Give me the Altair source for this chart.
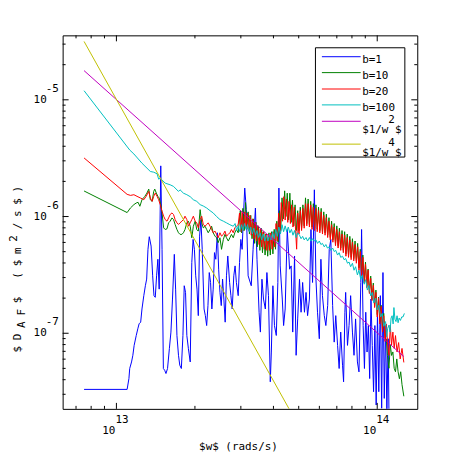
import altair as alt
import pandas as pd

# ---- data: log10(w [rad/s]) and log10(D_AF [m^2/s]) ----
b1_logw = [12.876, 13.041, 13.048, 13.051, 13.058, 13.063, 13.068, 13.076, 13.082, 13.087,
           13.093, 13.098, 13.105, 13.111, 13.116, 13.121, 13.126, 13.133, 13.139, 13.144,
           13.149, 13.154, 13.159, 13.164, 13.170, 13.175, 13.180, 13.185, 13.190, 13.196,
           13.203, 13.209, 13.215, 13.222, 13.227, 13.232, 13.238, 13.243, 13.249, 13.255,
           13.260, 13.265, 13.270, 13.276, 13.283, 13.289, 13.294, 13.299, 13.304, 13.309,
           13.314, 13.319, 13.324, 13.329, 13.336, 13.341, 13.346, 13.351, 13.356, 13.361,
           13.366, 13.371, 13.376, 13.381, 13.387, 13.392, 13.397, 13.402, 13.407, 13.412,
           13.417, 13.422, 13.427, 13.434, 13.439, 13.444, 13.450, 13.455, 13.460, 13.467,
           13.472, 13.477, 13.482, 13.487, 13.492, 13.498, 13.505, 13.517, 13.524, 13.533,
           13.539, 13.547, 13.552, 13.558, 13.564, 13.571, 13.577, 13.583, 13.590, 13.594,
           13.600, 13.606, 13.613, 13.619, 13.623, 13.628, 13.636, 13.641, 13.647, 13.655,
           13.664, 13.670, 13.676, 13.683, 13.689, 13.695, 13.702, 13.708, 13.714, 13.721,
           13.727, 13.733, 13.740, 13.746, 13.752, 13.759, 13.765, 13.771, 13.778, 13.784,
           13.790, 13.797, 13.803, 13.810, 13.816, 13.822, 13.829, 13.835, 13.841, 13.848,
           13.854, 13.860, 13.867, 13.871, 13.876, 13.879, 13.886, 13.892, 13.898, 13.905,
           13.911, 13.917, 13.924, 13.930, 13.937, 13.940, 13.946, 13.951, 13.956, 13.961,
           13.966, 13.971, 13.976, 13.981, 13.986, 13.991, 13.996, 14.001, 14.006, 14.012,
           14.017, 14.022, 14.027, 14.032, 14.037, 14.042, 14.046]
b1_logD = [-7.481, -7.481, -7.388, -7.302, -7.246, -7.189, -7.104, -7.019, -6.962, -6.919,
           -6.905, -6.792, -6.678, -6.593, -6.536, -6.281, -6.173, -6.253, -6.508, -6.678,
           -6.692, -6.508, -6.366, -6.622, -5.566, -6.281, -7.302, -7.317, -7.345, -7.302,
           -7.132, -6.990, -6.707, -6.324, -6.622, -7.019, -7.189, -7.274, -7.302, -7.019,
           -6.593, -6.650, -7.019, -7.132, -7.246, -6.395, -6.196, -6.281, -6.508, -6.622,
           -6.849, -6.168, -6.026, -6.281, -6.792, -6.849, -6.934, -6.763, -6.480, -6.565,
           -6.792, -6.622, -6.309, -6.366, -6.139, -6.451, -6.650, -6.763, -6.536, -6.707,
           -6.905, -6.508, -6.338, -6.565, -6.678, -6.792, -6.508, -6.423, -6.565, -6.678,
           -6.395, -6.196, -6.281, -5.997, -5.756, -5.941, -6.508, -6.593, -6.281, -5.927,
           -6.366, -6.820, -6.990, -6.537, -6.707, -6.792, -6.480, -6.678, -7.416, -7.161,
           -6.593, -6.934, -7.019, -6.565, -5.756, -6.423, -6.707, -6.934, -6.792, -6.111,
           -6.451, -6.423, -6.990, -6.338, -7.189, -6.877, -6.537, -6.820, -6.565, -6.820,
           -6.650, -6.849, -6.707, -6.111, -6.565, -5.771, -6.537, -6.820, -7.047, -6.366,
           -6.678, -6.849, -6.934, -6.763, -6.281, -6.196, -6.763, -7.076, -6.849, -7.104,
           -7.302, -6.990, -7.274, -7.416, -6.820, -6.650, -7.104, -6.934, -6.678, -6.990,
           -7.189, -6.877, -7.246, -7.331, -6.565, -6.111, -6.934, -7.302, -6.820, -7.161,
           -6.934, -7.388, -6.707, -7.104, -7.501, -6.934, -7.615, -6.820, -7.501, -6.678,
           -7.643, -6.480, -7.558, -6.934, -7.671, -7.047, -7.900]

b10_logw = [12.876, 13.041, 13.054, 13.067, 13.076, 13.083, 13.090, 13.098, 13.109, 13.117,
            13.124, 13.130, 13.137, 13.143, 13.147, 13.153, 13.159, 13.164, 13.170, 13.175,
            13.181, 13.187, 13.194, 13.200, 13.206, 13.213, 13.219, 13.225, 13.232, 13.238,
            13.244, 13.251, 13.257, 13.263, 13.270, 13.276, 13.283, 13.289, 13.295, 13.302,
            13.308, 13.314, 13.321, 13.327, 13.333, 13.340, 13.346, 13.352, 13.359, 13.365,
            13.371, 13.378, 13.384, 13.390, 13.397, 13.403, 13.410, 13.416, 13.422, 13.429,
            13.435, 13.441, 13.448, 13.454, 13.460, 13.467,
            13.475, 13.480, 13.485, 13.490, 13.495, 13.500, 13.505, 13.510, 13.515, 13.520,
            13.525, 13.530, 13.535, 13.540, 13.545, 13.550, 13.555, 13.560, 13.565, 13.570,
            13.575, 13.580, 13.585, 13.590, 13.595, 13.600, 13.605, 13.610, 13.615, 13.620,
            13.625, 13.630, 13.635, 13.640, 13.645, 13.650, 13.655, 13.660, 13.665, 13.670,
            13.675, 13.680, 13.685, 13.690, 13.695, 13.700, 13.705, 13.710, 13.715, 13.720,
            13.725, 13.730, 13.735, 13.740, 13.745, 13.750, 13.755, 13.760, 13.765, 13.770,
            13.775, 13.780, 13.785, 13.790, 13.795, 13.800, 13.805, 13.810, 13.815, 13.820,
            13.825, 13.830, 13.835, 13.840, 13.845, 13.850, 13.855, 13.860, 13.865, 13.870,
            13.875, 13.880, 13.885, 13.890, 13.895, 13.900, 13.905, 13.910, 13.915, 13.920,
            13.925, 13.930, 13.935, 13.940, 13.945, 13.950, 13.955, 13.960, 13.965, 13.970,
            13.975, 13.980, 13.985, 13.990, 13.995, 14.000, 14.005, 14.010, 14.015, 14.020,
            14.025, 14.030,
            14.035, 14.039, 14.045, 14.050, 14.055, 14.060, 14.065, 14.070, 14.075, 14.080,
            14.085, 14.090, 14.095, 14.102]
b10_logD = [-5.781, -5.966, -5.926, -5.898, -5.884, -5.878, -5.912, -5.856, -5.827, -5.799,
            -5.765, -5.856, -5.870, -5.785, -5.765, -5.799, -5.827, -5.841, -5.898, -5.969,
            -6.097, -6.111, -6.105, -6.054, -6.040, -6.012, -6.026, -6.068, -6.111, -6.139,
            -6.153, -6.153, -6.139, -6.111, -6.054, -6.040, -6.083, -6.182, -6.083, -6.040,
            -6.111, -6.125, -5.941, -6.054, -6.097, -6.083, -6.111, -6.139, -6.111, -6.083,
            -6.139, -6.168, -6.182, -6.224, -6.182, -6.281, -6.196, -6.153, -6.182, -6.210,
            -6.182, -6.153, -6.182, -6.139, -6.111, -6.139,
            -5.95, -6.14, -5.93, -6.12, -5.88, -6.11, -5.96, -6.15, -5.99, -6.19,
            -6.02, -6.23, -6.05, -6.26, -6.08, -6.29, -6.10, -6.31, -6.13, -6.33,
            -6.15, -6.34, -6.14, -6.33, -6.13, -6.32, -6.11, -6.28, -6.04, -6.22,
            -5.95, -6.12, -5.84, -6.02, -5.78, -6.00, -5.80, -6.03, -5.80, -6.05,
            -5.86, -6.08, -5.90, -6.12, -5.95, -6.12, -5.92, -6.10, -5.90, -6.08,
            -5.84, -6.06, -5.85, -6.07, -5.87, -6.09, -5.89, -6.10, -5.90, -6.11,
            -5.92, -6.12, -5.93, -6.13, -5.96, -6.14, -5.98, -6.16, -6.01, -6.18,
            -6.04, -6.20, -6.06, -6.23, -6.08, -6.25, -6.10, -6.27, -6.12, -6.29,
            -6.13, -6.32, -6.15, -6.33, -6.17, -6.35, -6.19, -6.36, -6.21, -6.38,
            -6.23, -6.44, -6.28, -6.49, -6.33, -6.55, -6.39, -6.60, -6.45, -6.65,
            -6.51, -6.71, -6.57, -6.77, -6.63, -6.84, -6.69, -6.90, -6.76, -6.97,
            -6.83, -7.04,
            -7.05, -7.19, -7.30, -7.10, -7.19, -7.16, -7.30, -7.33, -7.22, -7.33,
            -7.39, -7.33, -7.44, -7.54]

b20_logw = [12.876, 13.041, 13.054, 13.067, 13.079, 13.092, 13.105, 13.114, 13.124, 13.130,
            13.137, 13.143, 13.149, 13.156, 13.162, 13.168, 13.175, 13.181, 13.187, 13.194,
            13.200, 13.206, 13.213, 13.219, 13.225, 13.232, 13.238, 13.244, 13.251, 13.257,
            13.263, 13.270, 13.276, 13.283, 13.289, 13.295, 13.302, 13.308, 13.314, 13.321,
            13.327, 13.333, 13.340, 13.346, 13.352, 13.359, 13.365, 13.371, 13.378, 13.384,
            13.390, 13.397, 13.403, 13.410, 13.416, 13.422, 13.429, 13.435, 13.441, 13.448,
            13.454, 13.460, 13.467,
            13.472, 13.477, 13.482, 13.487, 13.492, 13.497, 13.502, 13.507, 13.512, 13.517,
            13.522, 13.527, 13.532, 13.537, 13.542, 13.547, 13.552, 13.557, 13.562, 13.567,
            13.572, 13.577, 13.582, 13.587, 13.592, 13.597, 13.602, 13.607, 13.612, 13.617,
            13.622, 13.627, 13.632, 13.637, 13.642, 13.647, 13.652, 13.657, 13.662, 13.667,
            13.672, 13.677, 13.682, 13.687, 13.691, 13.695, 13.700, 13.705, 13.710, 13.715,
            13.720, 13.725, 13.730, 13.735, 13.740, 13.745, 13.750, 13.755, 13.760, 13.765,
            13.770, 13.775, 13.780, 13.785, 13.790, 13.795, 13.800, 13.805, 13.810, 13.815,
            13.820, 13.825, 13.830, 13.835, 13.840, 13.845, 13.850, 13.855, 13.860, 13.865,
            13.870, 13.875, 13.880, 13.885, 13.890, 13.895, 13.900, 13.905, 13.910, 13.915,
            13.920, 13.925, 13.930, 13.935, 13.940, 13.945, 13.950, 13.955, 13.960, 13.965,
            13.970, 13.975, 13.980, 13.985, 13.990, 13.995, 14.000, 14.005, 14.010, 14.015,
            14.020, 14.025, 14.030, 14.035,
            14.040, 14.045, 14.050, 14.055, 14.060, 14.065, 14.070, 14.076, 14.082, 14.088,
            14.095, 14.102]
b20_logD = [-5.498, -5.810, -5.819, -5.813, -5.827, -5.841, -5.856, -5.827, -5.785, -5.841,
            -5.870, -5.827, -5.799, -5.827, -5.856, -5.898, -5.955, -5.997, -6.026, -6.040,
            -6.012, -5.983, -5.969, -5.983, -6.026, -6.054, -6.068, -6.054, -6.040, -6.026,
            -5.997, -6.026, -6.083, -6.054, -6.026, -5.997, -6.040, -6.054, -6.097, -6.026,
            -5.997, -6.068, -6.083, -6.068, -6.054, -6.083, -6.111, -6.139, -6.125, -6.153,
            -6.182, -6.139, -6.168, -6.153, -6.125, -6.168, -6.153, -6.139, -6.111, -6.139,
            -6.097, -6.083, -6.068,
            -5.97, -6.13, -5.96, -6.12, -5.96, -6.10, -5.97, -6.12, -5.99, -6.16,
            -6.02, -6.19, -6.05, -6.21, -6.08, -6.24, -6.11, -6.26, -6.13, -6.28,
            -6.15, -6.29, -6.15, -6.29, -6.14, -6.28, -6.13, -6.26, -6.06, -6.21,
            -5.97, -6.14, -5.88, -6.04, -5.83, -6.03, -5.85, -6.05, -5.87, -6.06,
            -5.90, -6.09, -5.92, -6.12, -6.28, -5.97, -6.15, -5.95, -6.12, -5.93,
            -6.10, -5.89, -6.08, -5.89, -6.09, -5.90, -6.11, -5.92, -6.12, -5.93,
            -6.13, -5.95, -6.14, -5.96, -6.15, -5.99, -6.16, -6.01, -6.18, -6.04,
            -6.20, -6.07, -6.22, -6.09, -6.25, -6.11, -6.27, -6.13, -6.29, -6.15,
            -6.31, -6.16, -6.34, -6.18, -6.35, -6.20, -6.37, -6.22, -6.38, -6.24,
            -6.40, -6.26, -6.46, -6.30, -6.51, -6.35, -6.57, -6.41, -6.61, -6.46,
            -6.66, -6.53, -6.72, -6.59, -6.78, -6.65, -6.86, -6.70, -6.92, -6.77,
            -6.99, -6.85, -7.07, -6.92,
            -7.10, -7.19, -6.93, -7.10, -6.99, -7.13, -7.02, -7.16, -7.08, -7.22,
            -7.13, -7.25]

b100_logw = [12.876, 13.051, 13.067, 13.098, 13.130, 13.143, 13.156, 13.162, 13.168, 13.187,
             13.206, 13.219, 13.238, 13.244, 13.257, 13.270, 13.283, 13.295, 13.308, 13.321,
             13.333, 13.346, 13.359, 13.371, 13.384, 13.397, 13.410, 13.422, 13.435, 13.448,
             13.455, 13.461, 13.467, 13.473, 13.479, 13.485, 13.491, 13.497, 13.503, 13.509,
             13.515, 13.521, 13.527, 13.533, 13.539, 13.545, 13.551, 13.557, 13.563, 13.569,
             13.575, 13.581, 13.587, 13.593, 13.599, 13.605, 13.611, 13.617, 13.623, 13.629,
             13.635, 13.641, 13.647, 13.653, 13.659, 13.665, 13.671, 13.677, 13.683, 13.689,
             13.695, 13.702, 13.708, 13.714, 13.720, 13.727, 13.733, 13.740, 13.746, 13.752,
             13.758, 13.765, 13.771, 13.778, 13.784, 13.790, 13.797, 13.803, 13.809, 13.816,
             13.822, 13.829, 13.835, 13.841, 13.848, 13.854, 13.860, 13.867, 13.873, 13.879,
             13.886, 13.892, 13.898, 13.905, 13.911, 13.917, 13.924, 13.930, 13.937, 13.943,
             13.950, 13.956, 13.962, 13.968, 13.975, 13.981, 13.987, 13.994, 14.000, 14.006,
             14.013, 14.019, 14.025, 14.032, 14.036, 14.040, 14.045, 14.049, 14.053, 14.057,
             14.061, 14.064, 14.068, 14.072, 14.076, 14.080, 14.084, 14.089, 14.094, 14.099,
             14.104]
b100_logD = [-4.922, -5.430, -5.464, -5.543, -5.614, -5.620, -5.634, -5.680, -5.671, -5.714,
             -5.728, -5.742, -5.785, -5.771, -5.800, -5.813, -5.830, -5.856, -5.870, -5.898,
             -5.910, -5.927, -5.950, -5.969, -6.000, -6.026, -6.040, -6.054, -6.070, -6.083,
             -6.06, -6.12, -6.08, -6.13, -6.07, -6.12, -6.06, -6.11, -6.07, -6.13,
             -6.09, -6.15, -6.10, -6.16, -6.12, -6.18, -6.14, -6.20, -6.15, -6.21,
             -6.16, -6.21, -6.15, -6.20, -6.13, -6.19, -6.11, -6.17, -6.09, -6.15,
             -6.07, -6.13, -6.08, -6.13, -6.09, -6.14, -6.11, -6.16, -6.12, -6.18,
             -6.14, -6.16, -6.19, -6.17, -6.20, -6.18, -6.21, -6.18, -6.21, -6.19,
             -6.21, -6.20, -6.23, -6.21, -6.24, -6.23, -6.26, -6.24, -6.27, -6.26,
             -6.29, -6.27, -6.30, -6.29, -6.33, -6.31, -6.35, -6.34, -6.37, -6.36,
             -6.40, -6.39, -6.43, -6.40, -6.46, -6.43, -6.50, -6.46, -6.54, -6.50,
             -6.58, -6.54, -6.63, -6.59, -6.68, -6.65, -6.74, -6.70, -6.80, -6.76,
             -6.86, -6.83, -6.94, -6.90, -7.03, -6.96, -6.93, -6.99, -6.87, -6.85,
             -6.92, -6.78, -6.88, -6.90, -6.85, -6.91, -6.87, -6.89, -6.86, -6.86,
             -6.83]

w2_logw = [12.876, 14.102]
w2_logD = [-4.750, -7.200]
w4_logw = [12.876, 13.700]
w4_logD = [-4.500, -7.800]

series_names = ["b=1", "b=10", "b=20", "b=100", "$1/w^2$", "$1/w^4$"]
series_colors = ["#0000ff", "#008000", "#ff0000", "#00bfbf", "#bf00bf", "#bfbf00"]
series_data = [(b1_logw, b1_logD), (b10_logw, b10_logD), (b20_logw, b20_logD),
               (b100_logw, b100_logD), (w2_logw, w2_logD), (w4_logw, w4_logD)]

x_domain = [6.22e12, 1.424e14]
y_domain = [2.25e-8, 3.566e-5]
x_major = [1e13, 1e14]
x_major_exp = ["13", "14"]
y_major = [1e-7, 1e-6, 1e-5]
y_major_exp = ["-7", "-6", "-5"]

W, H = 357, 376
FONT = "DejaVu Sans Mono"
FS = 11

xscale = alt.Scale(type="log", domain=x_domain, nice=False)
yscale = alt.Scale(type="log", domain=y_domain, nice=False)
one = pd.DataFrame({"k": [0]})

layers = []
for (lw, ld), name, col in zip(series_data, series_names, series_colors):
    assert len(lw) == len(ld), name
    df = pd.DataFrame({"w": [10 ** v for v in lw], "D": [10 ** v for v in ld],
                       "i": list(range(len(lw)))})
    layers.append(alt.Chart(df).mark_line(color=col, strokeWidth=1, clip=True).encode(
        x=alt.X("w:Q", scale=xscale, axis=None),
        y=alt.Y("D:Q", scale=yscale, axis=None),
        order="i:Q"))

# ---- inward ticks on all four sides ----
def in_dom(v, d):
    return d[0] <= v <= d[1]

x_minor = [m * 10.0 ** e for e in (12, 13) for m in range(2, 10) if in_dom(m * 10.0 ** e, x_domain)]
y_minor = [m * 10.0 ** e for e in (-8, -7, -6, -5) for m in range(2, 10) if in_dom(m * 10.0 ** e, y_domain)]

for vals, L in ((x_major, 6), (x_minor, 3)):
    d = pd.DataFrame({"v": vals})
    for y0, y1 in ((H, H - L), (0, L)):
        layers.append(alt.Chart(d).mark_rule(color="black", strokeWidth=1).encode(
            x=alt.X("v:Q", scale=xscale, axis=None), y=alt.value(y0), y2=alt.value(y1)))
for vals, L in ((y_major, 6), (y_minor, 3)):
    d = pd.DataFrame({"v": vals})
    for x0, x1 in ((0, L), (W, W - L)):
        layers.append(alt.Chart(d).mark_rule(color="black", strokeWidth=1).encode(
            y=alt.Y("v:Q", scale=yscale, axis=None), x=alt.value(x0), x2=alt.value(x1)))

# ---- tick labels: 10 with raised exponent ----
xl = pd.DataFrame({"v": x_major, "e": x_major_exp})
layers.append(alt.Chart(xl).mark_text(text="10", font=FONT, fontSize=FS, align="right",
                                      baseline="middle", dx=-1).encode(
    x=alt.X("v:Q", scale=xscale, axis=None), y=alt.value(H + 22)))
layers.append(alt.Chart(xl).mark_text(font=FONT, fontSize=FS, align="left",
                                      baseline="middle", dx=-1).encode(
    x=alt.X("v:Q", scale=xscale, axis=None), y=alt.value(H + 11), text="e:N"))
yl = pd.DataFrame({"v": y_major, "e": y_major_exp})
layers.append(alt.Chart(yl).mark_text(text="10", font=FONT, fontSize=FS, align="right",
                                      baseline="middle").encode(
    y=alt.Y("v:Q", scale=yscale, axis=None), x=alt.value(-16)))
layers.append(alt.Chart(yl).mark_text(font=FONT, fontSize=FS, align="left",
                                      baseline="middle", dy=-11).encode(
    y=alt.Y("v:Q", scale=yscale, axis=None), x=alt.value(-17), text="e:N"))


def txt(s, x, y, angle=0, align="left", size=FS):
    kw = dict(text=s, font=FONT, fontSize=size, align=align, baseline="middle", color="black")
    if angle:
        kw["angle"] = angle
    return alt.Chart(one).mark_text(**kw).encode(x=alt.value(x), y=alt.value(y))


# ---- axis titles ----
layers.append(txt("$w$ (rads/s)", 177, H + 38, align="center"))
# y title glyphs: (character, vertical shift: 1 = subscript, -1 = superscript)
ytitle = [("$", 0), ("D", 0), ("A", 1), ("F", 1), ("$", 0), (" ", 0), ("(", 0), ("$", 0),
          ("m", 0), ("2", -1), ("/", 0), ("s", 0), ("$", 0), (")", 0)]
for i, (ch, shift) in enumerate(ytitle):
    if ch.strip():
        layers.append(txt(ch, -45 + 4 * shift, 316 - 12.4 * i, angle=270, align="center"))

# ---- legend box ----
layers.append(alt.Chart(one).mark_rect(fill="white", stroke="black", strokeWidth=1).encode(
    x=alt.value(254.5), x2=alt.value(344.5), y=alt.value(12.5), y2=alt.value(122.5)))
leg_line_y = [21.5, 37.5, 54, 70, 86.5, 109.5]
for k, (name, col) in enumerate(zip(series_names, series_colors)):
    ly = leg_line_y[k]
    layers.append(alt.Chart(one).mark_rule(color=col, strokeWidth=1).encode(
        x=alt.value(261), x2=alt.value(300), y=alt.value(ly)))
    if k < 4:
        layers.append(txt(name, 301.5, ly + 3))
    else:
        sup = "2" if k == 4 else "4"
        layers.append(txt("$1/w", 301.5, ly + 8.5))
        layers.append(txt(sup, 301.5 + 4 * 6.6, ly - 1))
        layers.append(txt("$", 301.5 + 5 * 6.6, ly + 8.5))

chart = alt.layer(*layers).properties(
    width=W, height=H,
    autosize=alt.AutoSizeParams(type="none"),
    padding={"left": 55, "top": 26, "right": 40, "bottom": 60},
).configure_view(stroke="black", strokeWidth=1)

chart.save("out.html", embed_options={"renderer": "svg", "actions": False})
